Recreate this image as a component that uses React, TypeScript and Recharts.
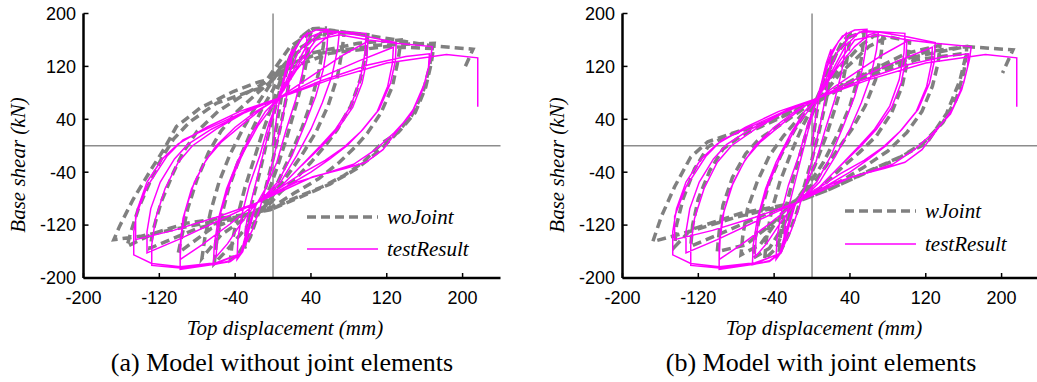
import { Line, LineChart, ReferenceLine, XAxis, YAxis } from 'recharts';

type Pt = [number, number];

const xTicks = [-200, -120, -40, 40, 120, 200];
const yTicks = [-200, -120, -40, 40, 120, 200];

// measured hysteresis (same test in both panels)
const testResult: Pt[] = [
  [0, 0], [4, 45], [10, 95], [15, 125], [20, 146],
  [19, 118], [15, 80], [9, 35], [2, -10], [-6, -55], [-14, -95], [-22, -128], [-30, -152],
  [-29, -125], [-25, -95], [-18, -55], [-10, -10], [-2, 35], [4, 65], [10, 95], [18, 130], [28, 158], [36, 170],
  [35, 145], [31, 110], [24, 70], [14, 25], [4, -25], [-8, -65], [-18, -90], [-26, -130], [-32, -160], [-38, -172],
  [-37, -140], [-33, -105], [-25, -60], [-14, -15], [-4, 35], [6, 72], [14, 110], [22, 145], [32, 166], [45, 175], [58, 176],
  [57, 150], [53, 115], [45, 75], [33, 30], [20, -15], [5, -55], [-10, -78], [-18, -87], [-26, -125], [-32, -160], [-45, -174], [-63, -180],
  [-62, -150], [-58, -112], [-49, -65], [-38, -25], [-22, 20], [-8, 52], [6, 72], [25, 115], [45, 150], [60, 168], [70, 172],
  [68, 145], [62, 105], [52, 65], [40, 25], [25, -15], [8, -55], [-8, -78], [-18, -87], [-35, -120], [-48, -148], [-60, -168],
  [-59, -140], [-55, -100], [-45, -55], [-32, -12], [-16, 30], [6, 72], [16, 105], [26, 140], [40, 165], [55, 174], [75, 172], [98, 170],
  [97, 140], [92, 100], [82, 60], [66, 25], [50, 0], [30, -30], [8, -62], [-18, -87], [-28, -135], [-33, -162], [-45, -175], [-65, -180], [-98, -187],
  [-98, -150], [-95, -110], [-86, -65], [-72, -25], [-60, 0], [-40, 28], [-18, 52], [6, 72], [40, 105], [75, 138], [100, 158],
  [99, 130], [94, 95], [84, 58], [68, 25], [52, 0], [30, -30], [6, -65], [-18, -87], [-45, -118], [-75, -150], [-98, -172],
  [-97, -140], [-93, -100], [-83, -55], [-70, -20], [-55, 5], [-30, 35], [-10, 58], [6, 72], [20, 110], [35, 150], [50, 172], [70, 172], [100, 165], [130, 156],
  [129, 128], [124, 95], [112, 55], [95, 25], [78, 0], [60, -20], [40, -40], [10, -65], [-18, -87], [-28, -130], [-34, -163], [-60, -178], [-98, -185], [-128, -181],
  [-128, -150], [-124, -110], [-114, -65], [-100, -25], [-85, 0], [-60, 25], [-30, 50], [6, 72], [45, 100], [90, 128], [127, 149],
  [126, 125], [121, 90], [110, 52], [93, 22], [75, -2], [55, -22], [30, -42], [5, -66], [-18, -87], [-60, -115], [-100, -142], [-133, -162],
  [-133, -130], [-129, -95], [-119, -55], [-104, -20], [-90, 2], [-65, 25], [-30, 50], [6, 72], [30, 130], [45, 160], [70, 168], [101, 160], [130, 155], [168, 150],
  [166, 130], [160, 95], [148, 55], [135, 30], [116, -6], [98, -25], [77, -34], [42, -47], [7, -70], [-18, -87], [-28, -130], [-34, -163], [-60, -177], [-98, -183], [-128, -178], [-147, -165],
  [-147, -130], [-143, -95], [-133, -55], [-117, -20], [-100, 3], [-70, 28], [-35, 52], [6, 72], [50, 98], [100, 122], [140, 135], [165, 139],
  [164, 118], [158, 85], [146, 48], [128, 20], [108, -6], [85, -28], [55, -42], [25, -55], [0, -72], [-18, -87], [-60, -108], [-105, -128], [-145, -142],
  [-145, -107], [-133, -62], [-112, -16], [-95, 9], [-60, 32], [-25, 55], [6, 72], [60, 100], [120, 125], [183, 138], [216, 133], [216, 59],
];

// model without joint elements
const woJoint: Pt[] = [
  [0, 0], [6, 50], [12, 100], [18, 135], [22, 150],
  [20, 120], [15, 80], [8, 30], [0, -20], [-8, -65], [-16, -105], [-24, -138], [-30, -155],
  [-28, -125], [-22, -85], [-14, -40], [-6, 10], [2, 55], [10, 100], [20, 140], [30, 165], [40, 176],
  [38, 150], [33, 110], [25, 65], [15, 15], [5, -30], [-5, -70], [-15, -100], [-25, -135], [-35, -160], [-45, -172],
  [-43, -145], [-38, -110], [-30, -65], [-20, -20], [-10, 25], [0, 65], [8, 100], [18, 135], [30, 165], [42, 177], [55, 178],
  [53, 150], [48, 110], [40, 65], [30, 25], [18, -15], [5, -55], [-8, -90], [-20, -110], [-35, -135], [-50, -160], [-62, -178],
  [-60, -150], [-55, -110], [-47, -65], [-37, -25], [-25, 15], [-12, 55], [0, 85], [10, 110], [25, 140], [45, 165], [60, 175], [75, 172],
  [73, 145], [68, 105], [58, 60], [45, 20], [30, -15], [15, -45], [0, -75], [-10, -95], [-30, -110], [-55, -135], [-75, -170],
  [-72, -140], [-66, -100], [-57, -55], [-46, -15], [-32, 25], [-18, 60], [-5, 88], [7, 115], [25, 145], [55, 170], [80, 171], [100, 168],
  [98, 140], [92, 100], [82, 60], [68, 25], [55, 0], [40, -25], [25, -48], [8, -70], [-5, -90], [-30, -105], [-65, -125], [-100, -162],
  [-96, -135], [-90, -95], [-80, -50], [-68, -10], [-55, 22], [-38, 52], [-18, 78], [-4, 95], [8, 118], [40, 140], [90, 155], [135, 160],
  [132, 130], [126, 90], [114, 50], [100, 20], [88, 0], [70, -25], [48, -50], [22, -72], [0, -92], [-35, -108], [-80, -125], [-130, -155],
  [-126, -125], [-118, -85], [-105, -40], [-95, -10], [-80, 22], [-58, 52], [-30, 78], [-8, 96], [6, 118], [50, 140], [110, 152], [170, 155],
  [167, 125], [161, 88], [150, 50], [132, 20], [115, 4], [95, -25], [75, -45], [52, -62], [18, -82], [-3, -97], [-42, -107], [-91, -117], [-125, -132], [-154, -152],
  [-150, -130], [-142, -95], [-130, -55], [-118, -20], [-105, 10], [-88, 36], [-60, 64], [-25, 82], [-7, 90], [8, 112], [60, 140], [120, 150], [168, 147],
  [165, 118], [158, 80], [146, 45], [128, 15], [110, -10], [88, -35], [60, -58], [28, -78], [0, -95], [-40, -108], [-100, -125], [-140, -137], [-168, -142],
  [-162, -122], [-148, -82], [-127, -32], [-115, -5], [-102, 29], [-77, 57], [-42, 82], [-14, 97], [-7, 99], [18, 150], [46, 177], [91, 169], [126, 161], [168, 151], [211, 146], [201, 114],
];

// model with joint elements
const wJoint: Pt[] = [
  [0, 0], [5, 50], [12, 100], [17, 125], [22, 140],
  [20, 110], [15, 70], [8, 25], [0, -20], [-8, -60], [-16, -100], [-25, -135], [-35, -165],
  [-33, -130], [-28, -95], [-20, -50], [-10, 0], [-2, 40], [5, 65], [14, 100], [24, 135], [32, 158], [40, 168],
  [38, 140], [33, 100], [25, 60], [15, 15], [3, -30], [-8, -65], [-18, -85], [-28, -120], [-38, -155], [-50, -172],
  [-48, -140], [-43, -100], [-34, -55], [-22, -10], [-10, 30], [2, 62], [14, 100], [26, 140], [40, 165], [55, 172],
  [53, 140], [48, 100], [40, 60], [28, 20], [12, -25], [-5, -62], [-18, -85], [-32, -125], [-45, -155], [-62, -170],
  [-60, -140], [-54, -100], [-45, -55], [-33, -15], [-18, 25], [-4, 55], [5, 66], [25, 110], [50, 150], [65, 166], [75, 168],
  [73, 140], [67, 100], [56, 60], [42, 25], [25, -10], [5, -50], [-12, -78], [-20, -85], [-40, -120], [-55, -150], [-75, -165],
  [-73, -135], [-68, -95], [-58, -55], [-45, -15], [-30, 15], [-12, 45], [5, 66], [30, 110], [60, 150], [80, 165], [103, 158],
  [101, 130], [95, 90], [84, 50], [68, 15], [50, -10], [30, -35], [8, -65], [-20, -85], [-40, -115], [-70, -150], [-100, -160],
  [-98, -130], [-94, -90], [-84, -48], [-70, -12], [-56, 10], [-30, 35], [-10, 55], [5, 66], [50, 105], [100, 140], [135, 152],
  [133, 125], [127, 90], [116, 52], [100, 20], [80, -8], [55, -32], [25, -58], [-20, -85], [-60, -110], [-100, -135], [-128, -152],
  [-126, -120], [-120, -80], [-108, -38], [-94, -5], [-75, 15], [-40, 38], [-10, 58], [5, 66], [60, 110], [120, 142], [163, 150],
  [163, 140], [156, 99], [142, 49], [121, 4], [93, -17], [60, -38], [20, -65], [-20, -87], [-75, -102], [-128, -127], [-145, -153],
  [-143, -120], [-136, -80], [-124, -35], [-110, -2], [-92, 14], [-50, 34], [-3, 64], [50, 100], [110, 130], [163, 140],
  [160, 110], [152, 70], [138, 35], [118, 5], [90, -20], [55, -42], [15, -68], [-20, -87], [-80, -108], [-130, -130], [-168, -145],
  [-159, -107], [-145, -62], [-128, -17], [-110, 6], [-90, 16], [-51, 34], [-3, 64], [50, 105], [110, 135], [163, 150], [212, 145], [201, 110],
];

const GRAY = '#808080';
const MAGENTA = '#ff00ff';
const SERIF = "'Liberation Serif', 'Times New Roman', Times, 'DejaVu Serif', serif";
const SANS = "'Liberation Sans', Arial, Helvetica, sans-serif";

const toRows = (pts: Pt[]) => pts.map(([x, y]) => ({ x, y }));

const tickStyle = { fontSize: 18, fontFamily: SANS, fill: '#000' };
const axisLine = { stroke: '#000', strokeWidth: 2.5 };
const tickLine = { stroke: '#000', strokeWidth: 1.5 };

interface PanelProps {
  left: number;
  marginLeft: number;
  modelName: string;
  model: Pt[];
  caption: string;
  legendLeft: number;
  legendTop: number;
}

function Panel({ left, marginLeft, modelName, model, caption, legendLeft, legendTop }: PanelProps) {
  const width = marginLeft + 60 + 417 + 9.5;
  return (
    <div style={{ position: 'absolute', left, top: 0, width: 540, height: 382 }}>
      <LineChart
        width={width}
        height={310}
        margin={{ top: 13.5, right: 9.5, left: marginLeft, bottom: 7 }}
        style={{ position: 'absolute', left: 0, top: 0 }}
      >
        <XAxis
          type="number"
          dataKey="x"
          domain={[-200, 240]}
          ticks={xTicks}
          allowDataOverflow
          height={25}
          tickSize={-5}
          tickMargin={18}
          tick={tickStyle}
          axisLine={axisLine}
          tickLine={tickLine}
        />
        <XAxis
          xAxisId="top"
          orientation="top"
          type="number"
          domain={[-200, 240]}
          ticks={xTicks}
          allowDataOverflow
          height={0}
          tickSize={-5}
          tick={false}
          axisLine={axisLine}
          tickLine={tickLine}
        />
        <YAxis
          type="number"
          domain={[-200, 200]}
          ticks={yTicks}
          allowDataOverflow
          width={60}
          tickSize={-5}
          tickMargin={12.5}
          tick={tickStyle}
          axisLine={axisLine}
          tickLine={tickLine}
        />
        <YAxis
          yAxisId="right"
          orientation="right"
          type="number"
          domain={[-200, 200]}
          ticks={yTicks}
          allowDataOverflow
          width={0}
          tickSize={-5}
          tick={false}
          axisLine={axisLine}
          tickLine={tickLine}
        />
        <ReferenceLine x={0} stroke="#8c8c8c" strokeWidth={1.5} />
        <ReferenceLine y={0} stroke="#8c8c8c" strokeWidth={1.5} />
        <Line
          data={toRows(model)}
          dataKey="y"
          name={modelName}
          type="linear"
          stroke={GRAY}
          strokeWidth={3.5}
          strokeDasharray="9 5"
          dot={false}
          isAnimationActive={false}
        />
        <Line
          data={toRows(testResult)}
          dataKey="y"
          name="testResult"
          type="linear"
          stroke={MAGENTA}
          strokeWidth={1.5}
          dot={false}
          isAnimationActive={false}
        />
      </LineChart>

      {/* legend */}
      <div style={{ position: 'absolute', left: legendLeft, top: legendTop, fontFamily: SERIF, fontStyle: 'italic', fontSize: 21 }}>
        {[
          { label: modelName, color: GRAY, w: 3.5, dash: '9 5' },
          { label: 'testResult', color: MAGENTA, w: 1.5, dash: undefined },
        ].map((item, i) => (
          <div key={item.label} style={{ display: 'flex', alignItems: 'center', height: 24, marginTop: i ? 8.6 : 0 }}>
            <svg width={71} height={10} style={{ display: 'block' }}>
              <line x1={0} x2={71} y1={5} y2={5} stroke={item.color} strokeWidth={item.w} strokeDasharray={item.dash} />
            </svg>
            <span style={{ marginLeft: 9, lineHeight: '24px' }}>{item.label}</span>
          </div>
        ))}
      </div>

      {/* axis titles */}
      <div
        style={{
          position: 'absolute', left: marginLeft - 5.5, top: 164.5, transform: 'translate(-50%, -50%) rotate(-90deg)',
          fontFamily: SERIF, fontStyle: 'italic', fontSize: 21, whiteSpace: 'nowrap',
        }}
      >
        Base shear (kN)
      </div>
      <div
        style={{
          position: 'absolute', left: marginLeft + 261.5, top: 328, transform: 'translate(-50%, -50%)',
          fontFamily: SERIF, fontStyle: 'italic', fontSize: 21, whiteSpace: 'nowrap',
        }}
      >
        Top displacement (mm)
      </div>
      <div
        style={{
          position: 'absolute', left: marginLeft + 258.5, top: 363, transform: 'translate(-50%, -50%)',
          fontFamily: SERIF, fontSize: 26, whiteSpace: 'nowrap',
        }}
      >
        {caption}
      </div>
    </div>
  );
}

export default function App() {
  return (
    <div style={{ position: 'absolute', left: 0, top: 0, width: 1037, height: 382, overflow: 'hidden', background: '#fff' }}>
      <Panel left={0} marginLeft={23.5} modelName="woJoint" model={woJoint} caption="(a) Model without joint elements" legendLeft={307} legendTop={204.7} />
      <Panel left={540} marginLeft={22.5} modelName="wJoint" model={wJoint} caption="(b) Model with joint elements" legendLeft={305} legendTop={199} />
    </div>
  );
}
